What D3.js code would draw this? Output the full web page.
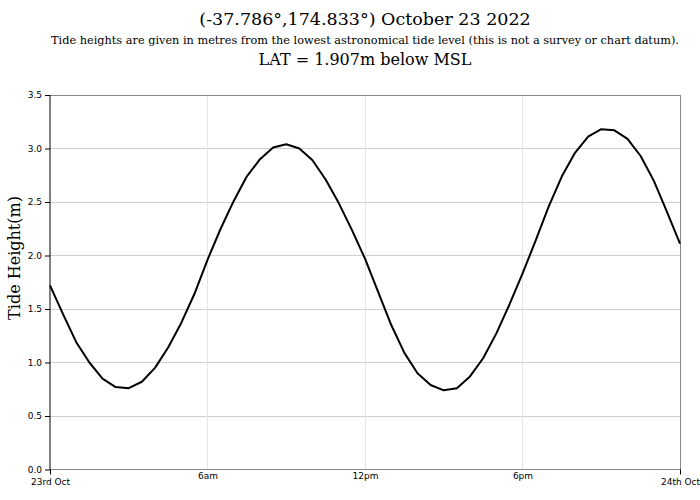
<!DOCTYPE html>
<html><head><meta charset="utf-8">
<script src="https://cdn.jsdelivr.net/npm/d3@7"></script>
<style>body{margin:0;background:#fff}svg{display:block}</style>
</head><body>
<svg id="c" width="700" height="500"></svg>
<script>
const titleText = "(-37.786°,174.833°) October 23 2022";
const subtitleText = "Tide heights are given in metres from the lowest astronomical tide level (this is not a survey or chart datum).";
const latText = "LAT = 1.907m below MSL";
const yAxisTitle = "Tide Height(m)";
// hours since midnight 23 Oct, every 30 minutes
const hours = [0,0.5,1,1.5,2,2.5,3,3.5,4,4.5,5,5.5,6,6.5,7,7.5,8,8.5,9,9.5,10,10.5,11,11.5,12,12.5,13,13.5,14,14.5,15,15.5,16,16.5,17,17.5,18,18.5,19,19.5,20,20.5,21,21.5,22,22.5,23,23.5,24];
const heights = [1.72,1.45,1.19,1.00,0.85,0.77,0.76,0.82,0.95,1.14,1.37,1.64,1.96,2.25,2.51,2.74,2.90,3.01,3.04,3.00,2.89,2.71,2.49,2.24,1.97,1.66,1.35,1.09,0.90,0.79,0.74,0.76,0.87,1.04,1.27,1.54,1.83,2.14,2.46,2.74,2.96,3.11,3.18,3.17,3.09,2.93,2.70,2.41,2.11];
const yTicks = [0,0.5,1,1.5,2,2.5,3,3.5];
const dayTicks = [0,24];
const dayLabels = ["23rd Oct","24th Oct"];
const hourTicks = [6,12,18];
const hourLabels = ["6am","12pm","6pm"];

const svg = d3.select("#c");
const L=50,R=680,T=95,B=469.5;
const x = d3.scaleLinear().domain([0,24]).range([L,R]);
const y = d3.scaleLinear().domain([0,3.5]).range([B,T]);
const serif = "DejaVu Serif";
const sans = "DejaVu Sans";

// horizontal grid
svg.append("g").selectAll("line").data(yTicks.filter(d=>d>0&&d<3.5)).join("line")
  .attr("x1",L).attr("x2",R).attr("y1",d=>y(d)).attr("y2",d=>y(d))
  .attr("stroke","#cfcfcf").attr("stroke-width",1).attr("shape-rendering","crispEdges");
// vertical grid
svg.append("g").selectAll("line").data(hourTicks).join("line")
  .attr("x1",d=>x(d)).attr("x2",d=>x(d)).attr("y1",T).attr("y2",B)
  .attr("stroke","#e4e4e4").attr("stroke-width",1).attr("shape-rendering","crispEdges");
// frame top/right/bottom
svg.append("path").attr("d",`M${L},${T}H${R}V${B}H${L}`).attr("fill","none")
  .attr("stroke","#888").attr("stroke-width",1).attr("shape-rendering","crispEdges");

// y axis
const yAxis = d3.axisLeft(y).tickValues(yTicks).tickFormat(d3.format(".1f")).tickSize(5).tickPadding(3);
const gy = svg.append("g").attr("transform",`translate(${L},0)`).call(yAxis);
gy.select(".domain").attr("stroke","#000").attr("d",`M0,${T}V${B}`);
gy.selectAll(".tick line").attr("stroke","#000");
gy.selectAll("text").attr("font-family",sans).attr("font-size",9).attr("fill","#000");

// x axis: day ticks
const xDay = d3.axisBottom(x).tickValues(dayTicks).tickFormat((d,i)=>dayLabels[i]).tickSize(5).tickPadding(4);
const gx = svg.append("g").attr("transform",`translate(0,${B})`).call(xDay);
gx.select(".domain").remove();
gx.selectAll(".tick line").attr("stroke","#000");
gx.selectAll("text").attr("font-family",sans).attr("font-size",9).attr("fill","#000");
// x axis: hour labels (no tick marks)
const xHour = d3.axisBottom(x).tickValues(hourTicks).tickFormat((d,i)=>hourLabels[i]).tickSize(0).tickPadding(3);
const gh = svg.append("g").attr("transform",`translate(0,${B})`).call(xHour);
gh.select(".domain").remove();
gh.selectAll("text").attr("font-family",sans).attr("font-size",9).attr("fill","#000");

// line
const line = d3.line().x((d,i)=>x(hours[i])).y(d=>y(d));
svg.append("path").datum(heights).attr("d",line).attr("fill","none")
  .attr("stroke","#000").attr("stroke-width",2).attr("stroke-linejoin","round");

// titles
const cx = (L+R)/2;
svg.append("text").attr("x",cx).attr("y",25).attr("text-anchor","middle")
  .attr("font-family",serif).attr("font-size",17.5).text(titleText);
svg.append("text").attr("x",cx).attr("y",44).attr("text-anchor","middle")
  .attr("font-family",serif).attr("font-size",11.3).text(subtitleText);
svg.append("text").attr("x",cx).attr("y",65).attr("text-anchor","middle")
  .attr("font-family",serif).attr("font-size",16).text(latText);
svg.append("text").attr("transform","translate(20,258) rotate(-90)").attr("text-anchor","middle")
  .attr("font-family",serif).attr("font-size",16).text(yAxisTitle);
</script>
</body></html>
